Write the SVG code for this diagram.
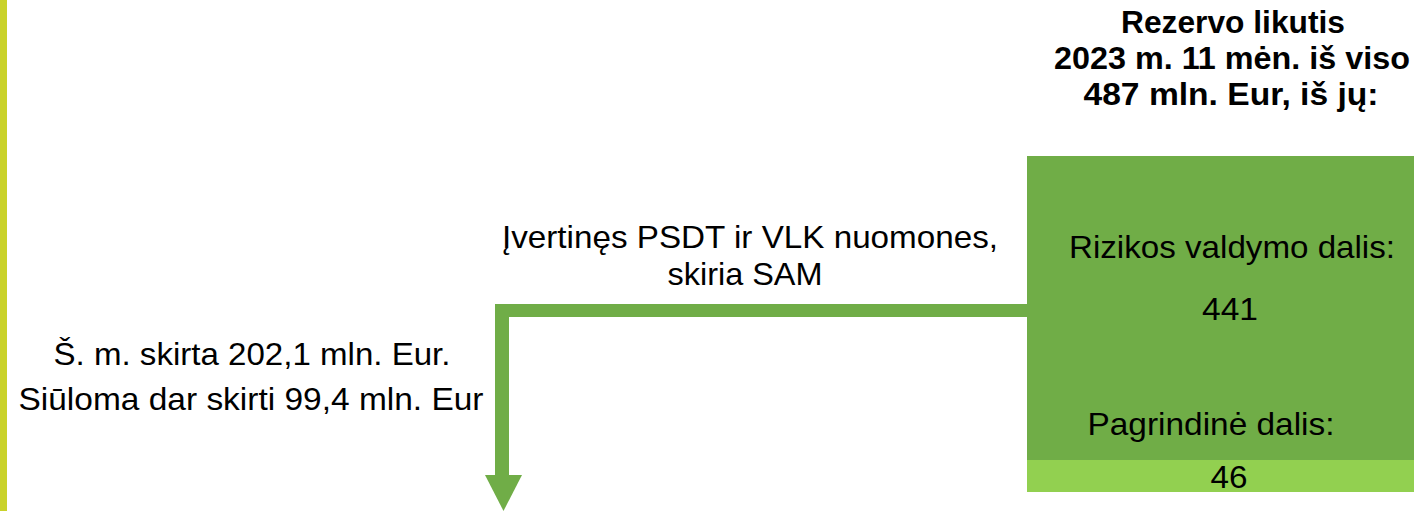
<svg xmlns="http://www.w3.org/2000/svg" width="1414" height="511" viewBox="0 0 1414 511">
  <style>
    .t { font-family: "Liberation Sans", Arial, sans-serif; font-size: 32px; fill: #000; text-anchor: middle; }
    .b { font-weight: bold; font-size: 31px; }
    .conn { fill: #70AD47; }
  </style>
  <rect width="1414" height="511" fill="#ffffff"/>
  <!-- side accent bar -->
  <rect id="accent-bar" x="0" y="0" width="7" height="511" fill="#C9D22A"/>

  <g id="reserve-title">
    <text class="t b" x="1233" y="33" textLength="224" lengthAdjust="spacingAndGlyphs">Rezervo likutis</text>
    <text class="t b" x="1232" y="69" textLength="356" lengthAdjust="spacingAndGlyphs">2023 m. 11 mėn. iš viso</text>
    <text class="t b" x="1231" y="105" textLength="295" lengthAdjust="spacingAndGlyphs">487 mln. Eur, iš jų:</text>
  </g>

  <g id="reserve-box">
    <rect x="1027" y="156" width="387" height="305" fill="#70AD47"/>
    <rect x="1027" y="460" width="387" height="32" fill="#92D050"/>
    <text class="t" x="1232" y="258" textLength="326" lengthAdjust="spacingAndGlyphs">Rizikos valdymo dalis:</text>
    <text class="t" x="1230" y="320" textLength="56" lengthAdjust="spacingAndGlyphs">441</text>
    <text class="t" x="1211" y="435" textLength="247" lengthAdjust="spacingAndGlyphs">Pagrindinė dalis:</text>
    <text class="t" x="1229" y="488" textLength="37" lengthAdjust="spacingAndGlyphs">46</text>
  </g>

  <g id="connectors">
    <rect class="conn" x="495" y="304" width="532" height="13"/>
    <rect class="conn" x="495" y="304" width="14" height="172"/>
    <polygon class="conn" points="485,475 522,475 503.5,511"/>
  </g>

  <g id="connector-label">
    <text class="t" x="750" y="248" textLength="496" lengthAdjust="spacingAndGlyphs">Įvertinęs PSDT ir VLK nuomones,</text>
    <text class="t" x="745" y="285" textLength="155" lengthAdjust="spacingAndGlyphs">skiria SAM</text>
  </g>

  <g id="allocation-note">
    <text class="t" x="252" y="365" textLength="397" lengthAdjust="spacingAndGlyphs">Š. m. skirta 202,1 mln. Eur.</text>
    <text class="t" x="251" y="410" textLength="465" lengthAdjust="spacingAndGlyphs">Siūloma dar skirti 99,4 mln. Eur</text>
  </g>
</svg>
